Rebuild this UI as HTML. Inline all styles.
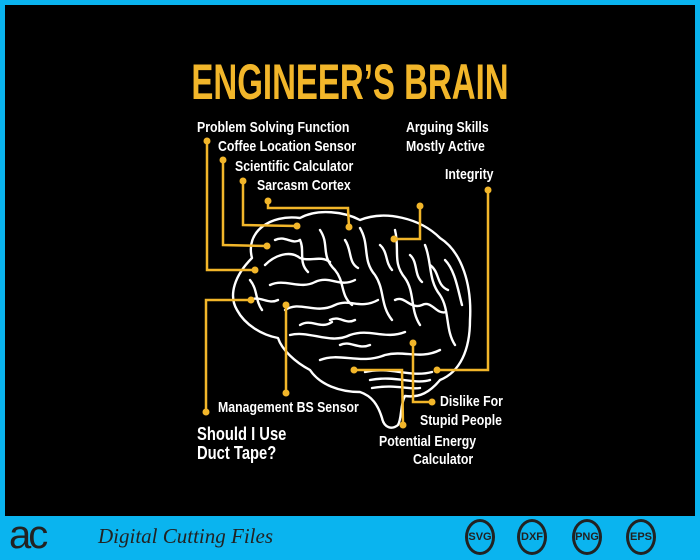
<!DOCTYPE html>
<html><head><meta charset="utf-8"><style>
html,body{margin:0;padding:0;}
body{width:700px;height:560px;background:#0ab4ef;position:relative;overflow:hidden;font-family:"Liberation Sans",sans-serif;}
#blk{position:absolute;left:5px;top:5px;width:690px;height:511px;background:#000;}
.t{position:absolute;color:#fff;font-weight:bold;font-size:15px;white-space:nowrap;line-height:1;transform:scaleX(0.82);transform-origin:0 0;}
.title{position:absolute;left:0;width:700px;top:57px;text-align:center;color:#f2b62a;font-weight:bold;font-size:50px;line-height:1;transform:scaleX(0.66);transform-origin:350px 0;}
.circ{position:absolute;top:519px;width:30px;height:36px;border:3px solid #222;border-radius:50%;box-sizing:border-box;text-align:center;line-height:30px;font-weight:bold;font-size:11px;color:#222;}
</style></head><body>
<div id="blk"></div>
<div class="title">ENGINEER’S BRAIN</div>
<svg width="700" height="560" style="position:absolute;left:0;top:0">
<g fill="none" stroke="#fff" stroke-width="2.4" stroke-linecap="round" stroke-linejoin="round">
<path d="M252,258 C245,232 270,214 300,218 C318,208 345,212 360,220 C385,210 420,218 440,238 C462,252 472,285 470,320 C470,350 460,372 440,380 C430,392 420,398 405,396 C400,405 402,418 398,425 C392,430 384,428 382,418 C378,405 372,396 360,392 C340,392 320,385 310,370 C295,362 282,350 278,338 C262,335 245,325 237,310 C228,295 235,275 252,258 Z"/>
<path d="M265,265 C275,255 290,250 300,258 C310,262 320,255 330,262"/>
<path d="M270,285 C285,278 300,290 315,282 C330,275 340,288 355,280"/>
<path d="M285,310 C300,300 315,315 335,305 C350,298 360,310 378,300"/>
<path d="M290,335 C310,330 330,345 350,335 C370,328 385,340 405,332"/>
<path d="M320,360 C340,352 360,365 385,355 C405,350 420,360 440,350"/>
<path d="M365,372 C390,366 410,378 432,372"/>
<path d="M370,380 C395,375 415,385 430,380"/>
<path d="M372,388 C395,384 410,390 420,388"/>
<path d="M320,230 C330,245 320,255 335,270 C345,282 340,295 352,305"/>
<path d="M360,228 C370,245 362,260 375,275 C385,290 380,305 392,320"/>
<path d="M395,230 C400,250 392,262 405,278 C415,292 410,310 420,325"/>
<path d="M425,245 C432,262 428,280 440,295 C450,310 445,330 455,345"/>
<path d="M445,260 C455,270 458,290 462,305"/>
<path d="M250,280 C258,290 255,300 262,310"/>
<path d="M300,240 C305,250 298,262 308,272"/>
<path d="M345,240 C352,250 348,262 358,268"/>
<path d="M380,245 C388,252 385,262 392,270"/>
<path d="M410,255 C418,262 414,275 422,282"/>
<path d="M330,320 C340,315 345,325 355,320"/>
<path d="M395,300 C405,295 410,310 422,305 C432,300 436,315 446,312"/>
<path d="M275,240 C285,235 292,245 300,240"/>
<path d="M300,325 C312,318 320,330 332,322"/>
<path d="M250,300 C260,295 268,305 278,300"/>
<path d="M430,265 C440,272 436,285 448,290"/>
<path d="M340,345 C350,340 358,350 370,345"/>
</g>
<g stroke="#f2b62a" stroke-width="2.5" fill="none">
<polyline points="207,141 207,270 255,270"/>
<polyline points="223,160 223,245 267,246"/>
<polyline points="243,181 243,225 297,226"/>
<polyline points="268,201 268,208 348,208 349,227"/>
<polyline points="420,206 420,239 394,239"/>
<polyline points="488,190 488,370 437,370"/>
<polyline points="206,412 206,300 251,300"/>
<polyline points="286,305 286,393"/>
<polyline points="413,343 413,402 432,402"/>
<polyline points="354,370 402,370 403,425"/>
</g>
<g fill="#f2b62a">
<circle cx="207" cy="141" r="3.5"/><circle cx="255" cy="270" r="3.5"/>
<circle cx="223" cy="160" r="3.5"/><circle cx="267" cy="246" r="3.5"/>
<circle cx="243" cy="181" r="3.5"/><circle cx="297" cy="226" r="3.5"/>
<circle cx="268" cy="201" r="3.5"/><circle cx="349" cy="227" r="3.5"/>
<circle cx="420" cy="206" r="3.5"/><circle cx="394" cy="239" r="3.5"/>
<circle cx="488" cy="190" r="3.5"/><circle cx="437" cy="370" r="3.5"/>
<circle cx="206" cy="412" r="3.5"/><circle cx="251" cy="300" r="3.5"/>
<circle cx="286" cy="305" r="3.5"/><circle cx="286" cy="393" r="3.5"/>
<circle cx="413" cy="343" r="3.5"/><circle cx="432" cy="402" r="3.5"/>
<circle cx="354" cy="370" r="3.5"/><circle cx="403" cy="425" r="3.5"/>
</g>
</svg>
<div class="t" style="left:197px;top:120px">Problem Solving Function</div>
<div class="t" style="left:218px;top:139px">Coffee Location Sensor</div>
<div class="t" style="left:235px;top:159px">Scientific Calculator</div>
<div class="t" style="left:257px;top:178px">Sarcasm Cortex</div>
<div class="t" style="left:406px;top:120px">Arguing Skills</div>
<div class="t" style="left:406px;top:139px">Mostly Active</div>
<div class="t" style="left:445px;top:167px">Integrity</div>
<div class="t" style="left:218px;top:400px">Management BS Sensor</div>
<div class="t" style="left:197px;top:425px;font-size:18px;line-height:19px">Should I Use<br>Duct Tape?</div>
<div class="t" style="left:440px;top:394px">Dislike For</div>
<div class="t" style="left:420px;top:413px">Stupid People</div>
<div class="t" style="left:379px;top:434px">Potential Energy</div>
<div class="t" style="left:413px;top:452px">Calculator</div>
<div style="position:absolute;left:9px;top:515px;font-family:'Liberation Sans',sans-serif;font-size:40px;color:#222;line-height:1;letter-spacing:-3px">ac</div>
<div style="position:absolute;left:98px;top:526px;font-family:'Liberation Serif',serif;font-style:italic;font-size:21px;color:#222;line-height:1">Digital Cutting Files</div>
<div class="circ" style="left:465px">SVG</div>
<div class="circ" style="left:517px">DXF</div>
<div class="circ" style="left:572px">PNG</div>
<div class="circ" style="left:626px">EPS</div>
</body></html>
